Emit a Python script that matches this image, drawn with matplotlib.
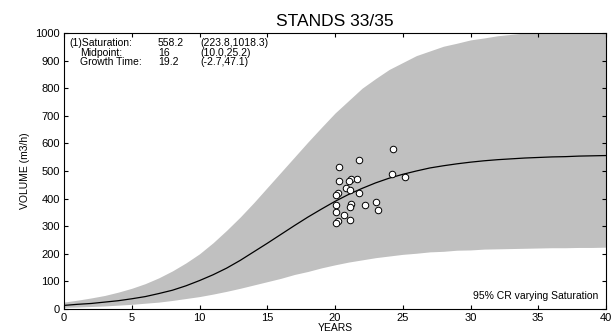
import numpy as np
import matplotlib.pyplot as plt

# Data
years = list(range(0, 41))
fit_curve = [13, 17, 20, 25, 30, 37, 45, 56, 68, 84, 103, 124, 148, 176, 207, 238, 270, 302, 333, 362,
             390, 415, 437, 457, 474, 488, 500, 511, 519, 526, 532, 537, 541, 544, 547, 549, 551, 552,
             554, 555, 556]
band_upper = [25, 32, 40, 49, 61, 75, 92, 113, 138, 167, 200, 240, 285, 333, 385, 440, 495, 550, 605, 658,
              710, 755, 800, 835, 868, 893, 918, 935, 952, 963, 975, 982, 990, 995, 1000, 1000, 1000, 1000,
              1000, 1000, 1000]
band_lower = [6, 7, 9, 11, 14, 17, 21, 25, 31, 38, 45, 54, 64, 75, 87, 99, 111, 125, 136, 149,
              160, 170, 178, 186, 192, 198, 202, 207, 209, 213, 214, 217, 218, 219, 220, 221, 222, 222,
              223, 223, 224]

obs_years = [24.3, 21.8, 20.3, 20.3, 21.2, 21.6, 21.0, 24.2, 25.2, 20.8, 21.1, 20.2, 20.1,
             21.8, 20.1, 21.2, 21.1, 22.2, 23.0, 23.2, 20.1, 20.7, 21.1, 20.2, 20.1]
obs_volume = [580, 540, 515, 463, 471, 471, 465, 490, 479, 440, 431, 419, 412,
              421, 377, 379, 371, 377, 388, 360, 353, 341, 321, 320, 313]

rows = [("(1)Saturation:", "558.2", "(223.8,1018.3)"),
        ("Midpoint:", "16", "(10.0,25.2)"),
        ("Growth Time:", "19.2", "(-2.7,47.1)")]

plt.rcParams['font.family'] = ['Liberation Sans', 'DejaVu Sans']

fig = plt.figure(figsize=(6.16, 3.33), dpi=100, facecolor='white')
ax = fig.add_axes([64/616, 1-309/333, 542/616, 276/333])

ax.fill_between(years, band_lower, band_upper, color='#c0c0c0', linewidth=0)
ax.plot(years, fit_curve, color='black', linewidth=0.9)
ax.scatter(obs_years, obs_volume, s=22, c='white', edgecolors='black', linewidths=0.7, zorder=3)

ax.set_xlim(0, 40)
ax.set_ylim(0, 1000)
ax.set_xticks(np.arange(0, 41, 5))
ax.set_yticks(np.arange(0, 1001, 100))
ax.tick_params(direction='in', top=True, right=True, length=3, width=0.8, labelsize=8, pad=3)
for s in ax.spines.values():
    s.set_linewidth(0.8)

ax.set_title('STANDS 33/35', fontsize=12.5, pad=5)
ax.set_xlabel('YEARS', fontsize=7.5, labelpad=0)
ax.set_ylabel('VOLUME (m3/h)', fontsize=7.5, labelpad=4,
              family=['Liberation Sans Narrow', 'Liberation Sans', 'DejaVu Sans'])

# fit parameter box
for i, (name, val, ci) in enumerate(rows):
    y = 43 + i * 9.5
    xname = 69 if i == 0 else 80
    fig.text(xname/616, 1-y/333, name, fontsize=7.5, va='center')
    fig.text(158/616, 1-y/333, val, fontsize=7.5, va='center')
    fig.text(200/616, 1-y/333, ci, fontsize=7.5, va='center')

ax.text(0.985, 0.03, '95% CR varying Saturation', transform=ax.transAxes,
        ha='right', va='bottom', fontsize=7.5)

fig.savefig('out.png', dpi=100, facecolor='white')
